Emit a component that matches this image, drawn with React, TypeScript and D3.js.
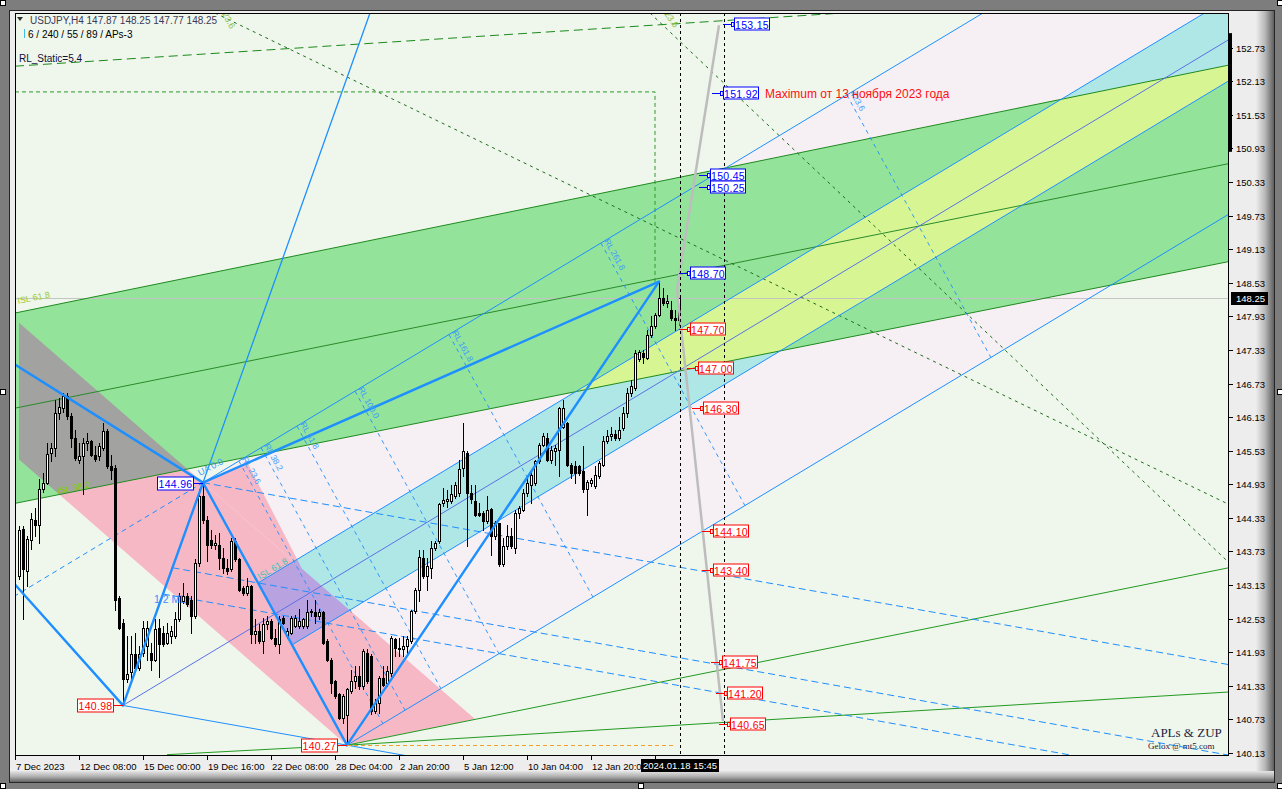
import React from "react";
import * as d3 from "d3";

type Pt = [number, number];
type Ln = [Pt, Pt];

// H4 bars: [open, high, low, close]
const bars: [number, number, number, number][] = [
  [143.29, 144.18, 143.23, 144.12], [144.13, 144.18, 142.52, 143.41], [143.38, 144.0, 143.11, 143.96], [143.94, 144.42, 143.77, 144.31],
  [144.3, 144.5, 144.0, 144.21], [144.21, 145.02, 143.89, 144.84], [144.84, 145.13, 144.8, 144.96], [144.96, 145.67, 144.93, 145.48],
  [145.49, 145.67, 145.34, 145.58], [145.58, 146.44, 145.43, 146.2], [146.2, 146.47, 146.1, 146.32], [146.3, 146.56, 146.23, 146.5],
  [146.5, 146.56, 146.09, 146.15], [146.15, 146.2, 145.6, 145.76], [145.76, 145.9, 145.37, 145.4], [145.37, 145.67, 145.31, 145.43],
  [145.43, 145.76, 144.75, 145.67], [145.67, 145.85, 145.55, 145.7], [145.7, 145.73, 145.43, 145.46], [145.46, 145.61, 145.34, 145.39],
  [145.43, 145.67, 145.37, 145.61], [145.58, 146.03, 145.55, 145.88], [145.88, 145.91, 145.22, 145.25], [145.25, 145.46, 145.02, 145.19],
  [145.22, 145.28, 142.69, 142.87], [142.9, 142.93, 142.34, 142.37], [142.46, 142.52, 140.98, 141.45], [141.45, 142.22, 141.39, 141.54],
  [141.57, 142.22, 141.42, 141.89], [141.89, 142.28, 141.62, 141.65], [141.65, 142.04, 141.62, 141.89], [141.92, 142.49, 141.86, 142.37],
  [142.04, 142.49, 141.8, 142.37], [141.92, 142.1, 141.62, 141.8], [141.8, 142.52, 141.77, 142.34], [142.37, 142.52, 141.48, 142.07],
  [142.28, 142.4, 142.04, 142.07], [142.1, 142.46, 142.07, 142.28], [142.22, 142.4, 142.1, 142.31], [142.22, 142.64, 142.19, 142.52],
  [142.52, 142.99, 142.49, 142.93], [142.84, 143.17, 142.81, 142.93], [142.93, 142.99, 142.75, 142.8], [142.87, 142.93, 142.28, 142.57],
  [142.57, 143.59, 142.55, 143.53], [143.53, 144.84, 143.47, 144.72], [144.72, 144.96, 144.24, 144.3], [144.3, 144.36, 143.56, 143.85],
  [143.94, 144.12, 143.8, 143.85], [143.85, 144.03, 143.77, 143.88], [143.85, 144.06, 143.41, 143.62], [143.62, 143.8, 143.35, 143.44],
  [143.44, 143.59, 143.32, 143.38], [143.41, 143.97, 143.38, 143.91], [143.91, 143.97, 143.56, 143.59], [143.59, 143.62, 143.02, 143.05],
  [143.08, 143.11, 142.96, 142.99], [142.99, 143.26, 142.96, 143.11], [143.11, 143.14, 142.1, 142.25], [142.25, 142.52, 142.1, 142.31],
  [142.31, 142.43, 142.1, 142.13], [142.13, 142.55, 141.92, 142.43], [142.43, 142.58, 142.34, 142.49], [142.49, 142.52, 142.16, 142.19],
  [142.19, 142.34, 142.04, 142.07], [142.07, 142.58, 141.92, 142.52], [142.55, 142.58, 142.43, 142.46], [142.22, 142.37, 142.19, 142.31],
  [142.28, 142.58, 142.25, 142.55], [142.4, 142.6, 142.38, 142.55], [142.4, 142.7, 142.37, 142.49], [142.4, 142.55, 142.37, 142.52],
  [142.4, 142.87, 142.37, 142.64], [142.64, 142.7, 142.58, 142.67], [142.64, 142.87, 142.46, 142.58], [142.58, 142.7, 142.52, 142.64],
  [142.64, 142.67, 142.07, 142.1], [142.13, 142.16, 141.77, 141.8], [141.8, 141.83, 141.2, 141.38], [141.41, 141.44, 141.12, 141.15],
  [141.18, 141.21, 140.73, 140.76], [140.76, 141.18, 140.67, 141.15], [140.8, 141.3, 140.27, 141.27], [141.24, 141.62, 141.2, 141.41],
  [141.41, 141.68, 141.3, 141.5], [141.5, 141.68, 141.27, 141.33], [141.33, 141.98, 141.27, 141.95], [141.92, 141.98, 141.38, 141.41],
  [141.86, 141.89, 140.82, 140.88], [140.88, 141.09, 140.85, 141.03], [141.03, 141.5, 140.85, 141.47], [141.47, 141.68, 141.32, 141.35],
  [141.38, 141.68, 141.32, 141.59], [141.56, 142.22, 141.5, 142.19], [142.17, 142.19, 141.86, 142.01], [142.01, 142.19, 141.86, 142.0],
  [141.98, 142.22, 141.86, 142.04], [142.04, 142.22, 141.89, 142.16], [142.13, 142.69, 142.1, 142.66], [142.66, 143.08, 142.63, 143.05],
  [143.05, 143.76, 142.84, 143.64], [143.61, 143.76, 143.26, 143.29], [143.29, 143.61, 143.05, 143.47], [143.44, 143.91, 143.26, 143.8],
  [143.8, 143.91, 143.76, 143.88], [143.91, 144.6, 143.88, 144.57], [144.59, 144.87, 144.54, 144.65], [144.64, 144.82, 144.52, 144.66],
  [144.63, 144.92, 144.6, 144.75], [144.72, 144.98, 144.69, 144.92], [144.78, 145.37, 144.72, 145.2], [145.22, 146.02, 145.07, 145.52],
  [145.49, 145.52, 143.82, 144.78], [144.78, 144.92, 144.6, 144.66], [144.63, 144.92, 144.36, 144.39], [144.42, 144.6, 144.36, 144.38],
  [144.41, 144.45, 144.12, 144.27], [144.27, 144.72, 144.24, 144.48], [144.49, 144.51, 143.67, 144.0], [144.0, 144.27, 143.95, 144.24],
  [144.23, 144.24, 143.47, 143.5], [143.5, 143.97, 143.47, 143.82], [143.82, 144.2, 143.77, 144.0], [144.0, 144.15, 143.79, 143.82],
  [143.8, 144.48, 143.7, 144.42], [144.42, 144.54, 144.33, 144.51], [144.48, 144.84, 144.45, 144.78], [144.78, 145.07, 144.72, 144.95],
  [144.92, 145.19, 144.6, 145.1], [144.95, 145.37, 144.92, 145.34], [145.34, 145.67, 145.31, 145.64], [145.64, 145.85, 145.61, 145.79],
  [145.76, 145.85, 145.34, 145.37], [145.37, 145.61, 145.31, 145.55], [145.52, 145.64, 145.28, 145.58], [145.55, 146.32, 145.07, 146.29],
  [145.96, 146.44, 145.94, 146.29], [146.02, 146.05, 145.25, 145.28], [145.28, 145.31, 145.04, 145.13], [145.25, 145.34, 144.95, 145.13],
  [145.25, 145.28, 145.1, 145.13], [145.16, 145.61, 144.8, 144.84], [144.84, 145.01, 144.39, 144.98], [144.95, 145.04, 144.9, 145.0],
  [144.9, 145.25, 144.87, 145.1], [145.07, 145.34, 145.04, 145.31], [145.28, 145.79, 145.25, 145.7], [145.7, 145.9, 145.67, 145.8],
  [145.79, 145.96, 145.73, 145.82], [145.82, 145.9, 145.73, 145.76], [145.76, 146.14, 145.73, 145.9], [145.93, 146.32, 145.9, 146.2],
  [146.2, 146.65, 146.14, 146.56], [146.56, 146.8, 146.5, 146.68], [146.65, 147.33, 146.62, 147.27], [147.16, 147.33, 147.13, 147.3],
  [147.27, 147.33, 147.1, 147.21], [147.19, 147.69, 147.16, 147.6], [147.6, 147.93, 147.57, 147.75], [147.75, 147.99, 147.72, 147.96],
  [147.96, 148.55, 147.93, 148.26], [148.26, 148.43, 148.14, 148.17], [148.17, 148.32, 148.1, 148.2], [148.05, 148.2, 147.87, 147.9],
  [147.9, 148.05, 147.69, 147.87], [147.87, 148.25, 147.77, 148.25],
];

const timeLabels = ["7 Dec 2023", "12 Dec 08:00", "15 Dec 00:00", "19 Dec 16:00", "22 Dec 08:00", "28 Dec 04:00", "2 Jan 20:00", "5 Jan 12:00", "10 Jan 04:00", "12 Jan 20:00"];
const timeLabelBars = [-1, 15, 31, 47, 63, 79, 95, 111, 127, 143];
const timeTickBars = [-1, 15, 31, 47, 63, 79, 95, 111, 127, 143, 159];
const priceTicks = [152.73, 152.13, 151.53, 150.93, 150.33, 149.73, 149.13, 148.53, 147.93, 147.33, 146.73, 146.13, 145.53, 144.93, 144.33, 143.73, 143.13, 142.53, 141.93, 141.33, 140.73, 140.13];

// ZUP swing points [bar, price]
const swingHigh0: Pt = [-1, 147.07];
const swingLow0: Pt = [-1, 143.14];
const P1: Pt = [26, 140.98];
const P2: Pt = [46, 144.96];
const P3: Pt = [82, 140.27];
const P4: Pt = [160, 148.55];
const P1ray: Pt = [87.75, 153.35];

// Andrews pitchfork on P1 / P2 / P3
const forkZoneRatio = 0.236;
const rlRatios = [0.236, 0.382, 0.618, 1, 1.618, 2.618, 4.236];
const rlLabels = ["RL 23.6", "RL 38.2", "RL 61.8", "RL 100.0", "RL 161.8", "RL 261.8", "423.6"];
const warnRatios = [0.5, 0.618, 1];

// green ISL channel
const greenUpper: Ln = [[-1, 147.99], [302.5, 152.42]];
const greenMid: Ln = [[-1, 146.29], [302.5, 150.66]];
const greenLower: Ln = [[-1, 144.59], [302.5, 148.91]];
const greenFromP3: Ln = [P3, [302.5, 143.44]];
const greenFlatP3: Pt[] = [[37, 140.1], P3, [302.5, 141.22]];
// pink zones
const pinkUpper: Ln = [P2, [107, 141.17]];
const pinkLower: Ln = [[-2, 145.5], P3];
const pinkWedge: Pt[] = [P2, [57.15, 145.31], [70.75, 143.42]];
// other objects
const rlStatic: Ln = [[-1, 152.4], [206, 153.35]];
const maxPath: Pt[] = [[-1, 151.94], [159, 151.94], [159, 148.55]];
const dotted1: Ln = [[49, 153.35], [302.5, 144.57]];
const dotted2: Ln = [[157.75, 153.35], [302.5, 143.53]];
const timeProjection: Pt[] = [[175, 153.13], [164.5, 148.41], [176, 140.7]];
const cursorBars = [165.25, 176.25];
const lastPrice = 148.25;
const axisBarRange = [150.87, 152.99];

const rightLevels = [153.15, 151.92, 150.45, 150.25, 148.7, 147.7, 147.0, 146.3, 144.1, 143.4, 141.75, 141.2, 140.65];
const rightLevelBars = [176, 173.25, 170, 170, 165, 165, 167, 168.25, 170.75, 170.75, 173, 174.25, 175];
const rightLevelKinds = ["hi", "hi", "hi", "hi", "hi", "lo", "lo", "lo", "lo", "lo", "lo", "lo", "lo"];

const FONT = "'Liberation Sans', Arial, sans-serif";

export default function App() {
  const x = d3.scaleLinear().domain([0, 165]).range([19, 679]);
  const y = d3.scaleLinear().domain([140.13, 152.73]).range([753, 47.7]);
  const L = 15, R = 1229, T = 13, B = 756;

  const at = (l: Ln, i: number) => l[0][1] + ((l[1][1] - l[0][1]) * (i - l[0][0])) / (l[1][0] - l[0][0]);
  const slope = (l: Ln) => (l[1][1] - l[0][1]) / (l[1][0] - l[0][0]);
  const cross = (a: Ln, b: Ln): Pt => {
    const i = (at(b, 0) - at(a, 0)) / (slope(a) - slope(b));
    return [i, at(a, i)];
  };
  const add = (a: Pt, v: Pt, k = 1): Pt => [a[0] + v[0] * k, a[1] + v[1] * k];
  const sub = (a: Pt, b: Pt): Pt => [a[0] - b[0], a[1] - b[1]];
  const lg = d3.line<Pt>().x((d) => x(d[0])).y((d) => y(d[1]));
  const path = (pts: Pt[]) => lg(pts) as string;
  const poly = (pts: Pt[]) => (lg(pts) as string) + "Z";
  const ext = (l: Ln, i0: number, i1: number): Pt[] => [[i0, at(l, i0)], [i1, at(l, i1)]];

  // pitchfork geometry
  const mid: Pt = [(P2[0] + P3[0]) / 2, (P2[1] + P3[1]) / 2];
  const dir = sub(mid, P1);
  const FAR = 8;
  const cu0 = add(mid, sub(P2, mid), forkZoneRatio);
  const cl0 = add(mid, sub(P3, mid), forkZoneRatio);
  const forkPoly = poly([P2, add(P2, dir, FAR), add(P3, dir, FAR), P3]);
  const cyanPoly = poly([cu0, add(cu0, dir, FAR), add(cl0, dir, FAR), cl0]);
  const p13dir = sub(P3, P1);

  const greenPoly = poly([[-1, at(greenUpper, -1)], [320, at(greenUpper, 320)], [320, at(greenLower, 320)], [-1, at(greenLower, -1)]]);
  const pinkPoly = poly([[0, at(pinkUpper, 0)], cross(pinkUpper, greenFromP3), P3, [0, at(pinkLower, 0)]]);
  const wedgePoly = poly(pinkWedge);

  const blue = "#1e8fff";

  const labelRight = (key: string, i: number, p: number, color: string) => {
    const ax = Math.round(x(i));
    const ay = Math.round(y(p)) + 0.5;
    const bx = ax + 11;
    return (
      <g key={key}>
        <line x1={ax} x2={ax + 8} y1={ay} y2={ay} stroke={color} />
        <rect x={ax + 8.5} y={ay - 2} width={2.5} height={4} fill="#fff" stroke={color} />
        <rect x={bx + 0.5} y={ay - 6.5} width={35} height={12} fill="#fff" stroke={color} />
        <text x={bx + 18} y={ay + 0.5} textAnchor="middle" dominantBaseline="central" fontSize={10.5} fill={color} fontFamily={FONT} letterSpacing={0.3}>
          {p.toFixed(2)}
        </text>
      </g>
    );
  };
  const labelLeft = (key: string, pt: Pt, color: string) => {
    const ax = Math.round(x(pt[0]));
    const ay = Math.round(y(pt[1])) + 0.5;
    const bx = ax - 10 - 36;
    return (
      <g key={key}>
        <line x1={ax - 10} x2={ax} y1={ay} y2={ay} stroke={color} />
        <rect x={bx + 0.5} y={ay - 6.5} width={36} height={13} fill="#fff" stroke={color} />
        <text x={bx + 18.5} y={ay + 0.5} textAnchor="middle" dominantBaseline="central" fontSize={10.5} fill={color} fontFamily={FONT} letterSpacing={0.3}>
          {pt[1].toFixed(2)}
        </text>
      </g>
    );
  };

  return (
    <svg width={1282} height={789} style={{ position: "fixed", left: 0, top: 0 }} xmlns="http://www.w3.org/2000/svg">
      <defs>
        <clipPath id="chartClip">
          <rect x={L} y={T} width={R - L} height={B - T} />
        </clipPath>
        <clipPath id="greenClip">
          <path d={greenPoly} />
        </clipPath>
        <clipPath id="cyanClip">
          <path d={cyanPoly} />
        </clipPath>
        <linearGradient id="bevR" x1="0" x2="1" y1="0" y2="0">
          <stop offset="0" stopColor="#ececec" />
          <stop offset="0.5" stopColor="#b8b8b8" />
          <stop offset="1" stopColor="#5e5e5e" />
        </linearGradient>
        <linearGradient id="bevB" x1="0" x2="0" y1="0" y2="1">
          <stop offset="0" stopColor="#e6e6e6" />
          <stop offset="0.5" stopColor="#b0b0b0" />
          <stop offset="1" stopColor="#626262" />
        </linearGradient>
      </defs>

      {/* window frame */}
      <rect x={0} y={0} width={1282} height={789} fill="#7d7d7d" />
      <rect x={9.5} y={10.5} width={1265} height={772} fill="#ededed" stroke="#262626" />
      <rect x={1256} y={11} width={18} height={771} fill="url(#bevR)" />
      <rect x={10} y={771} width={1264} height={11} fill="url(#bevB)" />
      <rect x={L} y={T} width={R - L} height={B - T} fill="#eff6ec" />

      <g clipPath="url(#chartClip)">
        {/* filled zones */}
        <path d={forkPoly} fill="#f6eff3" />
        <path d={pinkPoly} fill="#f7b8c6" />
        <path d={wedgePoly} fill="#f7b8c6" />
        <path d={greenPoly} fill="#93e39a" />
        <path d={cyanPoly} fill="#afe6e6" />
        <g clipPath="url(#greenClip)">
          <path d={pinkPoly} fill="#a2a2a0" />
          <path d={cyanPoly} fill="#d7f693" />
        </g>
        <g clipPath="url(#cyanClip)">
          <path d={pinkPoly} fill="#b8a2e0" />
          <path d={wedgePoly} fill="#b8a2e0" />
        </g>

        {/* current price line */}
        <line x1={L} x2={R} y1={Math.round(y(lastPrice)) + 0.5} y2={Math.round(y(lastPrice)) + 0.5} stroke="#c4c4c4" />

        {/* green structure */}
        <path d={path(ext(greenUpper, -1, 310))} stroke="#1f8a1f" fill="none" />
        <path d={path(ext(greenMid, -1, 310))} stroke="#2a8a2a" fill="none" />
        <path d={path(ext(greenLower, -1, 310))} stroke="#1f8a1f" fill="none" />
        <path d={path(ext(greenFromP3, P3[0], 310))} stroke="#229a22" fill="none" />
        <path d={path(greenFlatP3)} stroke="#229a22" fill="none" />
        <path d={path(ext(rlStatic, -1, 310))} stroke="#1c8a1c" fill="none" strokeDasharray="9,5" />
        <path d={path(maxPath)} stroke="#2c9a2c" fill="none" strokeDasharray="4,3" />
        <path d={path(dotted1)} stroke="#1d6d1d" fill="none" strokeDasharray="3,4" />
        <path d={path(dotted2)} stroke="#1d6d1d" fill="none" strokeDasharray="3,4" />

        {/* pitchfork lines */}
        <path d={path([P2, add(P2, dir, FAR)])} stroke={blue} fill="none" />
        <path d={path([P3, add(P3, dir, FAR)])} stroke={blue} fill="none" />
        <path d={path([cu0, add(cu0, dir, FAR)])} stroke={blue} fill="none" />
        <path d={path([cl0, add(cl0, dir, FAR)])} stroke={blue} fill="none" />
        <path d={path([P1, add(P1, dir, FAR)])} stroke="#5a72e6" fill="none" />
        <path d={path([add(P2, dir, -1.6), P2])} stroke={blue} fill="none" strokeDasharray="5,4" />
        <path d={path([P1, add(P1, p13dir, 3)])} stroke={blue} fill="none" />

        {/* warning lines parallel to P1-P3 */}
        {warnRatios.map((f, k) => {
          const s = add(P1, sub(P2, P1), f);
          return <path key={"w" + k} d={path([s, add(s, p13dir, 6)])} stroke={blue} fill="none" strokeDasharray="7,4" />;
        })}
        {/* reaction lines */}
        {rlRatios.map((r, k) => (
          <path key={"rl" + k} d={path([add(P2, dir, r), add(P3, dir, r)])} stroke={blue} fill="none" strokeDasharray="4,4" strokeWidth={0.9} />
        ))}

        {/* candles */}
        {bars.map((b, i) => {
          const [o, h, l, c] = b;
          const cx = Math.round(x(i));
          const top = Math.round(y(Math.max(o, c)));
          const bot = Math.round(y(Math.min(o, c)));
          return (
            <g key={"c" + i} shapeRendering="crispEdges">
              <line x1={cx + 0.5} x2={cx + 0.5} y1={Math.round(y(h))} y2={Math.round(y(l)) + 1} stroke="#000" />
              <rect x={cx - 0.5} y={top + 0.5} width={2} height={Math.max(bot - top, 1)} fill={c >= o ? "#fff" : "#000"} stroke="#000" />
            </g>
          );
        })}

        {/* ZUP zigzag */}
        <g stroke={blue} strokeWidth={2.4} fill="none" strokeLinecap="round">
          <path d={path([swingHigh0, P2])} />
          <path d={path([swingLow0, P1])} />
          <path d={path([P2, P1ray])} strokeWidth={1.3} />
          <path d={path([P1, P2])} />
          <path d={path([P2, P3])} />
          <path d={path([P3, P4])} />
          <path d={path([P2, P4])} />
        </g>

        {/* orange level at the low */}
        <line x1={x(P3[0])} x2={x(164)} y1={Math.round(y(P3[1])) + 0.5} y2={Math.round(y(P3[1])) + 0.5} stroke="#f0a030" strokeDasharray="4,3" />

        {/* time projection */}
        <path d={path(timeProjection)} stroke="#bdbdbd" strokeWidth={2.5} fill="none" />

        {/* cursor verticals */}
        {cursorBars.map((cb, k) => (
          <line key={"cv" + k} x1={Math.round(x(cb)) + 0.5} x2={Math.round(x(cb)) + 0.5} y1={T} y2={B} stroke="#000" strokeDasharray="3,3" />
        ))}

        {/* fib labels */}
        <g fontFamily={FONT} fontSize={9}>
          <text transform="translate(18,304) rotate(-11.5)" fill="#9ccc30">ISL 61.8</text>
          <text transform="translate(58,494) rotate(-11.5)" fill="#7fd000">ISL 38.2</text>
          <text transform={`translate(${x(cu0[0]) + 2},${y(cu0[1]) - 3}) rotate(-31)`} fill="#3cc0b8">ISL 61.8</text>
          <text transform="translate(200,476) rotate(-28)" fill="#3d9cff">UA 0.0</text>
          <text transform="translate(222,14) rotate(62)" fill="#8cc040">23.6</text>
          <text transform="translate(664,14) rotate(55)" fill="#8cc040">23.6</text>
          <text x={154} y={603} fill="#3d8cff" fontSize={10.5}>1/2 ML</text>
          {rlRatios.map((r, k) => {
            const q = add(P2, dir, r);
            return (
              <text key={"rlt" + k} transform={`translate(${x(q[0]) + 3},${y(q[1]) - 2}) rotate(61)`} fill="#3d9cff" fontSize={8.5}>
                {rlLabels[k]}
              </text>
            );
          })}
        </g>
      </g>

      {/* chart border */}
      <rect x={L + 0.5} y={T + 0.5} width={R - L - 1} height={B - T - 1} fill="none" stroke="#000" shapeRendering="crispEdges" />

      {/* price labels */}
      {rightLevels.map((p, k) => labelRight("rl" + k, rightLevelBars[k], p, rightLevelKinds[k] === "hi" ? "#0000ff" : "#ff0000"))}
      {labelLeft("p2", P2, "#0000ff")}
      {labelLeft("p1", P1, "#ff0000")}
      {labelLeft("p3", P3, "#ff0000")}
      <text x={765} y={y(151.92) + 4.5} fontFamily={FONT} fontSize={12} fill="#ff1010">
        Maximum от 13 ноября 2023 года
      </text>

      {/* header */}
      <path d="M17,17 L23,17 L20,21 Z" fill="#303030" />
      <text x={30} y={24} fontFamily={FONT} fontSize={10} fill="#3a3a58">
        USDJPY,H4  147.87 148.25 147.77 148.25
      </text>
      <rect x={24} y={29} width={1} height={9} fill="#40c0e0" />
      <text x={28} y={38} fontFamily={FONT} fontSize={10} fill="#000">6 / 240 / 55 / 89 / APs-3</text>
      <text x={19} y={62} fontFamily={FONT} fontSize={10} fill="#10103a">RL_Static=5.4</text>

      {/* watermark */}
      <text x={1151} y={737} fontFamily="'Liberation Serif', serif" fontSize={13} fill="#1c1c40">APLs &amp; ZUP</text>
      <text x={1148} y={749} fontFamily="'Liberation Serif', serif" fontSize={9} fill="#1c1c40">Gelox @ mt5.com</text>

      {/* price axis */}
      <rect x={1229} y={y(axisBarRange[1])} width={3} height={y(axisBarRange[0]) - y(axisBarRange[1])} fill="#000" />
      {priceTicks.map((p) => {
        const yy = Math.round(y(p)) + 0.5;
        return (
          <g key={"pt" + p}>
            <line x1={R} x2={R + 4} y1={yy} y2={yy} stroke="#000" />
            <text x={1236} y={yy} dominantBaseline="central" fontFamily={FONT} fontSize={9.5} fill="#000">
              {p.toFixed(2)}
            </text>
          </g>
        );
      })}
      <rect x={1231} y={Math.round(y(lastPrice)) - 6} width={37} height={13} fill="#000" />
      <text x={1236} y={Math.round(y(lastPrice)) + 0.5} dominantBaseline="central" fontFamily={FONT} fontSize={9.5} fill="#fff">
        {lastPrice.toFixed(2)}
      </text>

      {/* time axis */}
      {timeTickBars.map((b) => (
        <line key={"tt" + b} x1={Math.round(x(b)) + 0.5} x2={Math.round(x(b)) + 0.5} y1={B} y2={B + 4} stroke="#000" />
      ))}
      {timeLabels.map((t, k) => (
        <text key={"tl" + k} x={Math.round(x(timeLabelBars[k])) + 1} y={770} fontFamily={FONT} fontSize={9.5} fill="#000">
          {t}
        </text>
      ))}
      <rect x={Math.round(x(cursorBars[0])) - 39} y={759} width={78} height={13} fill="#000" />
      <text x={Math.round(x(cursorBars[0]))} y={769} textAnchor="middle" fontFamily={FONT} fontSize={9.5} fill="#fff">
        2024.01.18 15:45
      </text>

      {/* window handles */}
      {[[0, 0], [0, 389], [0, 783], [638, 783], [1277, 0], [1277, 389], [1277, 783]].map((h, k) => (
        <rect key={"h" + k} x={h[0] + 0.5} y={h[1] + 0.5} width={5} height={5} fill="#fff" stroke="#000" />
      ))}
    </svg>
  );
}
